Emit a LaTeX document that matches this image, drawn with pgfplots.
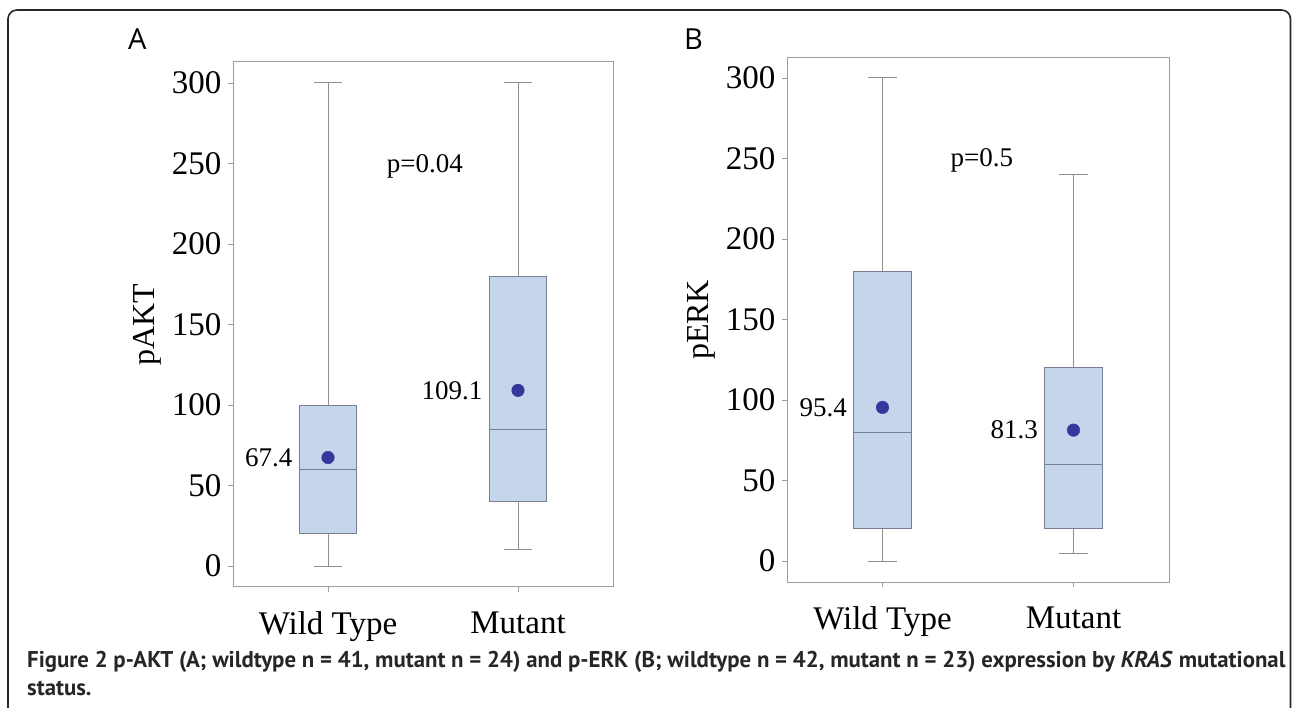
\documentclass[border=0pt]{standalone}
\usepackage{pgfplots}
\pgfplotsset{compat=1.18}
\usepgfplotslibrary{statistics}
\usepackage{fontspec}
\setmainfont{Liberation Serif}
\newfontfamily\capfont{PT Sans}
\newfontfamily\panelfont{Open Sans}

\definecolor{boxfill}{RGB}{197,214,236}
\definecolor{boxedge}{RGB}{118,128,145}
\definecolor{whiskergray}{RGB}{150,140,140}
\definecolor{axisgray}{RGB}{165,155,155}
\definecolor{meanblue}{RGB}{55,55,155}
\definecolor{framegray}{RGB}{40,40,40}

\pgfplotsset{
  kras/.style={
    scale only axis,
    xmin=-0.5, xmax=1.5,
    xtick={0,1},
    xticklabels={Wild Type, Mutant},
    ytick={0,50,100,150,200,250,300},
    tick align=outside,
    xtick pos=bottom, ytick pos=left,
    major tick length=5pt,
    tick style={draw=axisgray, line width=0.8pt},
    axis line style={draw=axisgray, line width=1pt},
    /pgf/number format/assume math mode=true,
    yticklabel style={font=\fontsize{33}{33}\selectfont, xshift=-3pt},
    xticklabel style={font=\fontsize{33}{33}\selectfont, yshift=-16pt},
    every axis y label/.style={at={(axis description cs:-0.225,0.5)}, rotate=90, anchor=center, font=\fontsize{32}{32}\selectfont},
    boxplot/draw direction=y,
    boxplot/every whisker/.style={draw=whiskergray, line width=1pt},
    boxplot/every box/.style={draw=boxedge, fill=boxfill, line width=1pt},
    boxplot/every median/.style={draw=boxedge, line width=1.2pt},
    clip=false,
  },
  meanpt/.style={only marks, mark=*, mark size=6.3pt, color=meanblue,
    nodes near coords, point meta=explicit symbolic,
    every node near coord/.append style={anchor=east, xshift=-32pt, text=black, font=\fontsize{27}{27}\selectfont}},
}

\begin{document}
\begin{tikzpicture}[x=1pt,y=1pt]
\useasboundingbox (0,0) rectangle (1293,707);
\draw[framegray, line width=1.6pt, rounded corners=9pt] (8,-30) -- (8,697) -- (1290.5,697) -- (1290.5,-30);

\node[anchor=base west, font=\panelfont\fontsize{29}{29}\selectfont, inner sep=0pt] at (128,657) {A};
\node[anchor=base west, font=\panelfont\fontsize{29}{29}\selectfont, inner sep=0pt] at (684,657) {B};

% panel A: pAKT
\begin{axis}[kras, at={(233pt,120pt)}, anchor=south west, width=380pt, height=525pt,
  ymin=-13, ymax=313, ylabel={pAKT}]
  \addplot[boxplot prepared={draw position=0, lower whisker=0, lower quartile=20,
    median=60, upper quartile=100, upper whisker=300, box extend=0.3, whisker extend=0.15}]
    coordinates {};
  \addplot[boxplot prepared={draw position=1, lower whisker=10, lower quartile=40,
    median=85, upper quartile=180, upper whisker=300, box extend=0.3, whisker extend=0.15}]
    coordinates {};
  \addplot[meanpt] coordinates {(0,67.4) [67.4] (1,109.1) [109.1]};
  \node[font=\fontsize{27}{27}\selectfont] at (axis cs:0.51,248) {p=0.04};
\end{axis}

% panel B: pERK
\begin{axis}[kras, at={(787pt,125pt)}, anchor=south west, width=382pt, height=524pt,
  ymin=-13, ymax=312.4, ylabel={pERK}]
  \addplot[boxplot prepared={draw position=0, lower whisker=0, lower quartile=20,
    median=80, upper quartile=180, upper whisker=300, box extend=0.3, whisker extend=0.15}]
    coordinates {};
  \addplot[boxplot prepared={draw position=1, lower whisker=5, lower quartile=20,
    median=60, upper quartile=120, upper whisker=240, box extend=0.3, whisker extend=0.15}]
    coordinates {};
  \addplot[meanpt] coordinates {(0,95.4) [95.4] (1,81.3) [81.3]};
  \node[font=\fontsize{27}{27}\selectfont] at (axis cs:0.52,249) {p=0.5};
\end{axis}

\node[anchor=base west, inner sep=0pt, text=black!85,
  font=\capfont\bfseries\fontsize{22.8}{22.8}\selectfont] at (27,40)
  {Figure 2 p-AKT (A; wildtype n = 41, mutant n = 24) and p-ERK (B; wildtype n = 42, mutant n = 23) expression by \textit{KRAS} mutational};
\node[anchor=base west, inner sep=0pt, text=black!85,
  font=\capfont\bfseries\fontsize{22.8}{22.8}\selectfont] at (27,12) {status.};
\end{tikzpicture}
\end{document}
